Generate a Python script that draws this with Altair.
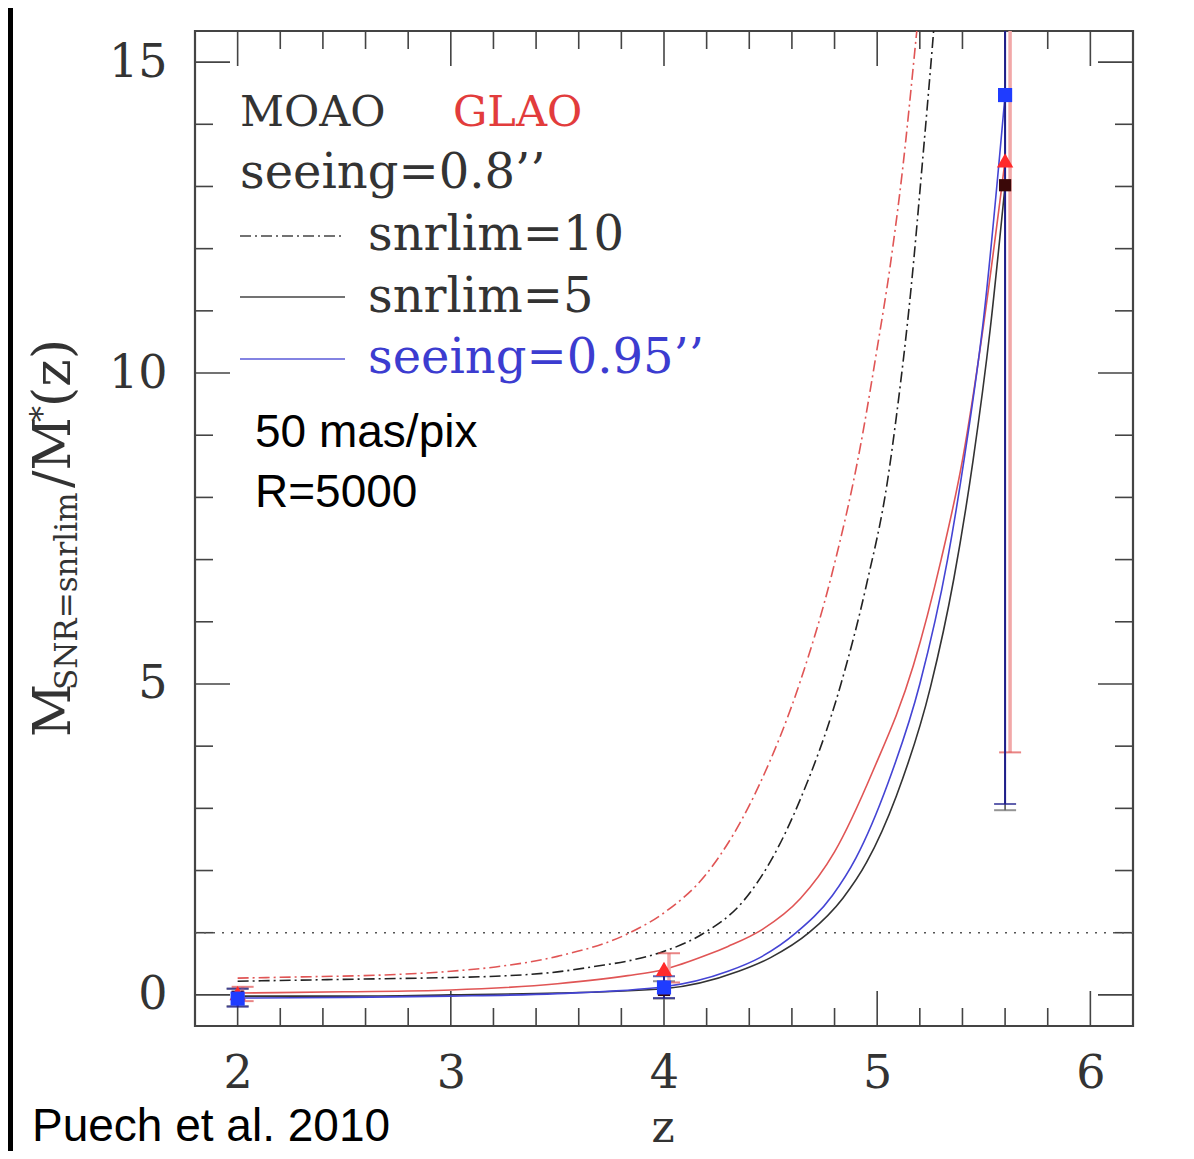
import altair as alt
import pandas as pd

# ---------------- data ----------------
# GLAO, snrlim=10 (red dash-dot)
z_glao10 = [2.0, 2.3, 2.68, 3.0, 3.21, 3.5, 3.84, 4.0, 4.2, 4.45, 4.64, 4.79, 4.92, 5.0, 5.06, 5.12, 5.18, 5.25]
v_glao10 = [0.27, 0.29, 0.32, 0.38, 0.45, 0.62, 1.0, 1.32, 1.95, 3.4, 5.05, 6.8, 8.8, 10.4, 11.7, 13.3, 15.3, 17.8]
# MOAO, snrlim=10 (black dash-dot)
z_moao10 = [2.0, 2.5, 3.0, 3.21, 3.5, 3.68, 3.85, 4.0, 4.18, 4.37, 4.5, 4.64, 4.83, 4.95, 5.05, 5.09, 5.16, 5.21, 5.26, 5.32]
v_moao10 = [0.22, 0.25, 0.28, 0.30, 0.37, 0.46, 0.56, 0.70, 0.98, 1.5, 2.15, 3.15, 5.0, 6.6, 8.3, 9.3, 11.4, 13.3, 15.3, 17.9]
# GLAO, snrlim=5 (red solid)
z_glao5 = [2.0, 2.5, 3.0, 3.5, 3.83, 4.0, 4.2, 4.3, 4.46, 4.64, 4.8, 4.98, 5.17, 5.30, 5.40, 5.5, 5.6]
v_glao5 = [0.03, 0.05, 0.08, 0.18, 0.31, 0.41, 0.64, 0.78, 1.05, 1.55, 2.3, 3.6, 5.3, 7.0, 8.6, 10.8, 13.42]
# seeing=0.95'' (blue solid)
z_see = [2.0, 2.5, 3.0, 3.5, 4.0, 4.3, 4.45, 4.62, 4.79, 4.9, 5.05, 5.20, 5.33, 5.41, 5.5, 5.6]
v_see = [-0.05, -0.04, -0.02, 0.02, 0.13, 0.38, 0.6, 1.0, 1.6, 2.2, 3.4, 5.0, 7.0, 8.66, 10.9, 14.47]
# MOAO, snrlim=5 (black solid)
z_moao5 = [2.0, 2.5, 3.0, 3.5, 4.0, 4.35, 4.5, 4.68, 4.84, 4.95, 5.09, 5.25, 5.36, 5.45, 5.53, 5.6]
v_moao5 = [-0.02, -0.02, 0.0, 0.03, 0.1, 0.38, 0.6, 1.0, 1.56, 2.13, 3.2, 4.95, 6.7, 8.6, 10.7, 13.02]

# points with error bars
pt_moao_z = [2.0, 4.0, 5.6]
pt_moao_v = [-0.03, 0.08, 13.02]
pt_moao_lo = [-0.18, -0.06, 2.97]
pt_moao_hi = [0.10, 0.22, 17.0]

pt_glao_z = [2.0, 4.0, 5.6]
pt_glao_v = [0.03, 0.42, 13.42]
pt_glao_lo = [-0.10, 0.20, 3.90]
pt_glao_hi = [0.13, 0.67, 17.0]

pt_see_z = [2.0, 4.0, 5.6]
pt_see_v = [-0.06, 0.12, 14.47]
pt_see_lo = [-0.19, -0.05, 3.07]
pt_see_hi = [0.10, 0.30, 17.0]

# axis ticks / labels
x_major = [2, 3, 4, 5, 6]
x_minor = [2.2, 2.4, 2.6, 2.8, 3.2, 3.4, 3.6, 3.8, 4.2, 4.4, 4.6, 4.8, 5.2, 5.4, 5.6, 5.8]
y_major = [0, 5, 10, 15]
y_minor = [1, 2, 3, 4, 6, 7, 8, 9, 11, 12, 13, 14]
threshold = [1.0]

# ---------------- chart ----------------
W, H = 938, 995
SERIF = "DejaVu Serif"
SANS = "Liberation Sans"
TXT = "#333333"

xscale = alt.Scale(domain=[1.8, 6.2], nice=False, zero=False)
yscale = alt.Scale(domain=[-0.5, 15.5], nice=False, zero=False)
xaxis = alt.Axis(values=x_major, format="d", title=None, ticks=False, tickSize=0, domain=False,
                 grid=False, labelFont=SERIF, labelFontSize=46, labelColor=TXT, labelPadding=25)
yaxis = alt.Axis(values=y_major, format="d", title=None, ticks=False, tickSize=0, domain=False,
                 grid=False, labelFont=SERIF, labelFontSize=46, labelColor=TXT, labelPadding=28)


def X(field="z"):
    return alt.X(f"{field}:Q", scale=xscale, axis=xaxis)


def Y(field="v"):
    return alt.Y(f"{field}:Q", scale=yscale, axis=yaxis)


def curve(zs, vs, color, dash=None, width=1.6):
    df = pd.DataFrame({"z": zs, "v": vs})
    kw = dict(color=color, strokeWidth=width, clip=True, interpolate="monotone")
    if dash:
        kw["strokeDash"] = dash
    return alt.Chart(df).mark_line(**kw).encode(x=X(), y=Y())


dummy = pd.DataFrame({"a": [0]})


def label(text, x, y, size=46, color=TXT, font=SERIF, angle=0, align="left"):
    props = dict(text=text, font=font, fontSize=size, color=color, align=align, baseline="alphabetic")
    if angle:
        props["angle"] = angle
    return alt.Chart(dummy).mark_text(**props).encode(x=alt.value(x), y=alt.value(y))


def sample(x1, x2, y, color, dash=None):
    kw = dict(color=color, strokeWidth=1.6)
    if dash:
        kw["strokeDash"] = dash
    return alt.Chart(dummy).mark_rule(**kw).encode(x=alt.value(x1), x2=alt.value(x2), y=alt.value(y))


layers = []

# black strip at the left edge of the picture
layers.append(alt.Chart(dummy).mark_rect(color="black").encode(
    x=alt.value(-187), x2=alt.value(-182), y=alt.value(-23), y2=alt.value(H + 125)))

# tick marks (inward, all four sides)
ymaj = pd.DataFrame({"v": y_major})
ymin = pd.DataFrame({"v": y_minor})
xmaj = pd.DataFrame({"z": x_major})
xmin = pd.DataFrame({"z": x_minor})
tcol = "#444444"
for df, L in [(ymaj, 35), (ymin, 18)]:
    layers.append(alt.Chart(df).mark_rule(color=tcol, strokeWidth=1.6).encode(
        y=Y(), x=alt.value(0), x2=alt.value(L)))
    layers.append(alt.Chart(df).mark_rule(color=tcol, strokeWidth=1.6).encode(
        y=Y(), x=alt.value(W), x2=alt.value(W - L)))
for df, L in [(xmaj, 35), (xmin, 18)]:
    layers.append(alt.Chart(df).mark_rule(color=tcol, strokeWidth=1.6).encode(
        x=X(), y=alt.value(H), y2=alt.value(H - L)))
    layers.append(alt.Chart(df).mark_rule(color=tcol, strokeWidth=1.6).encode(
        x=X(), y=alt.value(0), y2=alt.value(L)))

# dotted threshold line
layers.append(alt.Chart(pd.DataFrame({"v": threshold})).mark_rule(
    color="#555555", strokeWidth=1.6, strokeDash=[2, 7]).encode(y=Y(), x=alt.value(0), x2=alt.value(W)))

# curves
DASHDOT = [11, 4, 2, 4]
layers.append(curve(z_glao10, v_glao10, "#e05555", DASHDOT))
layers.append(curve(z_moao10, v_moao10, "#222222", DASHDOT))
layers.append(curve(z_glao5, v_glao5, "#e05555"))
layers.append(curve(z_moao5, v_moao5, "#333333"))
layers.append(curve(z_see, v_see, "#4444d4"))

# error bars
df_moao = pd.DataFrame({"z": pt_moao_z, "v": pt_moao_v, "lo": pt_moao_lo, "hi": pt_moao_hi})
df_glao = pd.DataFrame({"z": pt_glao_z, "v": pt_glao_v, "lo": pt_glao_lo, "hi": pt_glao_hi})
df_see = pd.DataFrame({"z": pt_see_z, "v": pt_see_v, "lo": pt_see_lo, "hi": pt_see_hi})


def errbar(df, color, width, cap_color, xoff=0):
    bar = alt.Chart(df).mark_rule(color=color, strokeWidth=width, clip=True, xOffset=xoff).encode(
        x=X(), y=Y("lo"), y2=alt.Y2("hi"))
    lo = alt.Chart(df).mark_tick(color=cap_color, orient="horizontal", size=22, thickness=2,
                                 clip=True, xOffset=xoff).encode(x=X(), y=Y("lo"))
    hi = alt.Chart(df).mark_tick(color=cap_color, orient="horizontal", size=22, thickness=2,
                                 clip=True, xOffset=xoff).encode(x=X(), y=Y("hi"))
    return [bar, lo, hi]


layers += errbar(df_moao, "#555555", 1.6, "#666666")
layers += errbar(df_glao, "#f2a8a8", 3.5, "#e05050", xoff=5)
layers += errbar(df_see, "#1e1e8c", 2, "#1e1e8c")

# markers
layers.append(alt.Chart(df_moao).mark_point(shape="square", filled=True, size=150, color="#3a0808",
                                            opacity=1, clip=True).encode(x=X(), y=Y()))
layers.append(alt.Chart(df_glao).mark_point(shape="triangle-up", filled=True, size=270, color="#ff2a2a",
                                            opacity=1, clip=True).encode(x=X(), y=Y()))
layers.append(alt.Chart(df_see).mark_point(shape="square", filled=True, size=200, color="#1f3cff",
                                           opacity=1, clip=True).encode(x=X(), y=Y()))

# in-plot legend texts
layers.append(label("MOAO", 45, 95, size=43))
layers.append(label("GLAO", 258, 95, size=43, color="#e23c3c"))
layers.append(label("seeing=0.8\u2019\u2019", 45, 157, size=48))
layers.append(sample(45, 150, 205, "#444444", DASHDOT))
layers.append(label("snrlim=10", 173, 219, size=48))
layers.append(sample(45, 150, 266, "#444444"))
layers.append(label("snrlim=5", 173, 281, size=48))
layers.append(sample(45, 150, 328, "#5a5ad8"))
layers.append(label("seeing=0.95\u2019\u2019", 173, 342, size=48, color="#3c3cd0"))
layers.append(label("50 mas/pix", 60, 416, size=46, color="black", font=SANS))
layers.append(label("R=5000", 60, 476, size=46, color="black", font=SANS))

# outside texts
layers.append(label("Puech et al. 2010", -163, 1110, size=46, color="black", font=SANS))
layers.append(label("z", 468, 1111, size=44, align="center"))

# y-axis title, pieced together (rotated)
layers.append(label("M", -125, 706, size=52, angle=270))
layers.append(label("SNR=snrlim", -118, 659, size=31, angle=270))
layers.append(label("/M", -125, 457, size=52, angle=270))
layers.append(label("*", -142, 391, size=32, angle=270))
layers.append(label("(z)", -125, 376, size=52, angle=270))

chart = alt.layer(*layers).properties(
    width=W, height=H,
    autosize=alt.AutoSizeParams(type="none"),
    padding={"left": 187, "top": 23, "right": 50, "bottom": 125},
).configure(
    background="white",
    view=alt.ViewConfig(stroke="#444444", strokeWidth=2.2),
)

chart.save("out.html", embed_options={"renderer": "svg", "actions": False})
